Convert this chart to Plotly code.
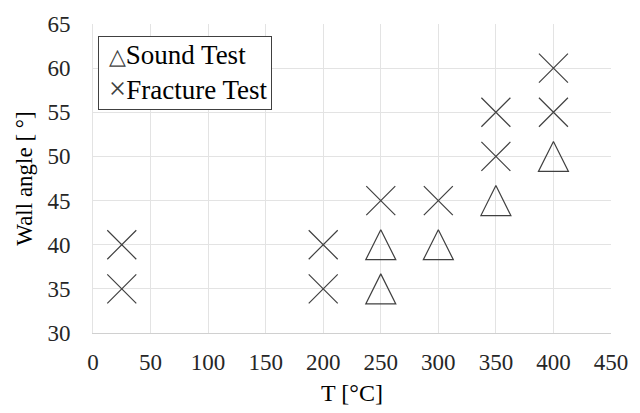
import plotly.graph_objects as go

# Data
sound_T = [250, 250, 300, 350, 400]
sound_angle = [35, 40, 40, 45, 50]
fracture_T = [25, 25, 200, 200, 250, 300, 350, 350, 400, 400]
fracture_angle = [35, 40, 35, 40, 45, 45, 50, 55, 55, 60]

x_ticks = [0, 50, 100, 150, 200, 250, 300, 350, 400, 450]
y_ticks = [30, 35, 40, 45, 50, 55, 60, 65]

legend_names = ["Sound Test", "Fracture Test"]
legend_glyphs = ["\u25b3", "\u00d7"]
glyph_sizes = [22, 31]

mcol = "#404040"
font = "Times New Roman, Liberation Serif, serif"

fig = go.Figure()
fig.add_trace(go.Scatter(
    x=sound_T, y=sound_angle, mode="markers", name="Sound Test",
    showlegend=False,
    marker=dict(symbol="arrow-down-open", angle=180, standoff=15, size=30,
                color=mcol, line=dict(color=mcol, width=1.2)),
))
fig.add_trace(go.Scatter(
    x=fracture_T, y=fracture_angle, mode="markers", name="Fracture Test",
    showlegend=False,
    marker=dict(symbol="x-thin-open", size=29,
                color=mcol, line=dict(color=mcol, width=1.2)),
))

lines = []
for g, gs, n in zip(legend_glyphs, glyph_sizes, legend_names):
    lines.append("\u00a0<span style='font-size:%dpx;color:#404040'>%s</span>%s" % (gs, g, n))
fig.add_annotation(
    xref="paper", yref="paper", x=0.0095, y=0.9615,
    xanchor="left", yanchor="top", align="left", showarrow=False,
    text="<br>".join(lines),
    font=dict(family=font, size=27, color="#000000"),
    bgcolor="white", bordercolor=mcol, borderwidth=1, borderpad=3,
)

fig.update_layout(
    width=640, height=413,
    margin=dict(l=93, r=18, t=20, b=80),
    paper_bgcolor="white", plot_bgcolor="white",
    font=dict(family=font, size=23, color="#262626"),
    showlegend=False,
)
fig.update_xaxes(
    range=[0, 450], tickvals=x_ticks, ticktext=[str(v) for v in x_ticks],
    showgrid=True, gridcolor="#e3e3e3", gridwidth=1, zeroline=False,
    showline=True, linecolor="#d0d0d0", linewidth=1,
    ticks="", ticklabelstandoff=8,
    title=dict(text="T [°C]", font=dict(family=font, size=24, color="#000000"), standoff=10),
    tickfont=dict(family=font, size=23, color="#262626"),
)
fig.update_yaxes(
    range=[30, 65], tickvals=y_ticks, ticktext=[str(v) for v in y_ticks],
    showgrid=True, gridcolor="#e3e3e3", gridwidth=1, zeroline=False,
    showline=True, linecolor="#e3e3e3", linewidth=1,
    ticks="", ticklabelstandoff=17,
    title=dict(text="Wall angle [ °]", font=dict(family=font, size=23, color="#000000"), standoff=8),
    tickfont=dict(family=font, size=23, color="#262626"),
)

fig.write_html("out.html")
